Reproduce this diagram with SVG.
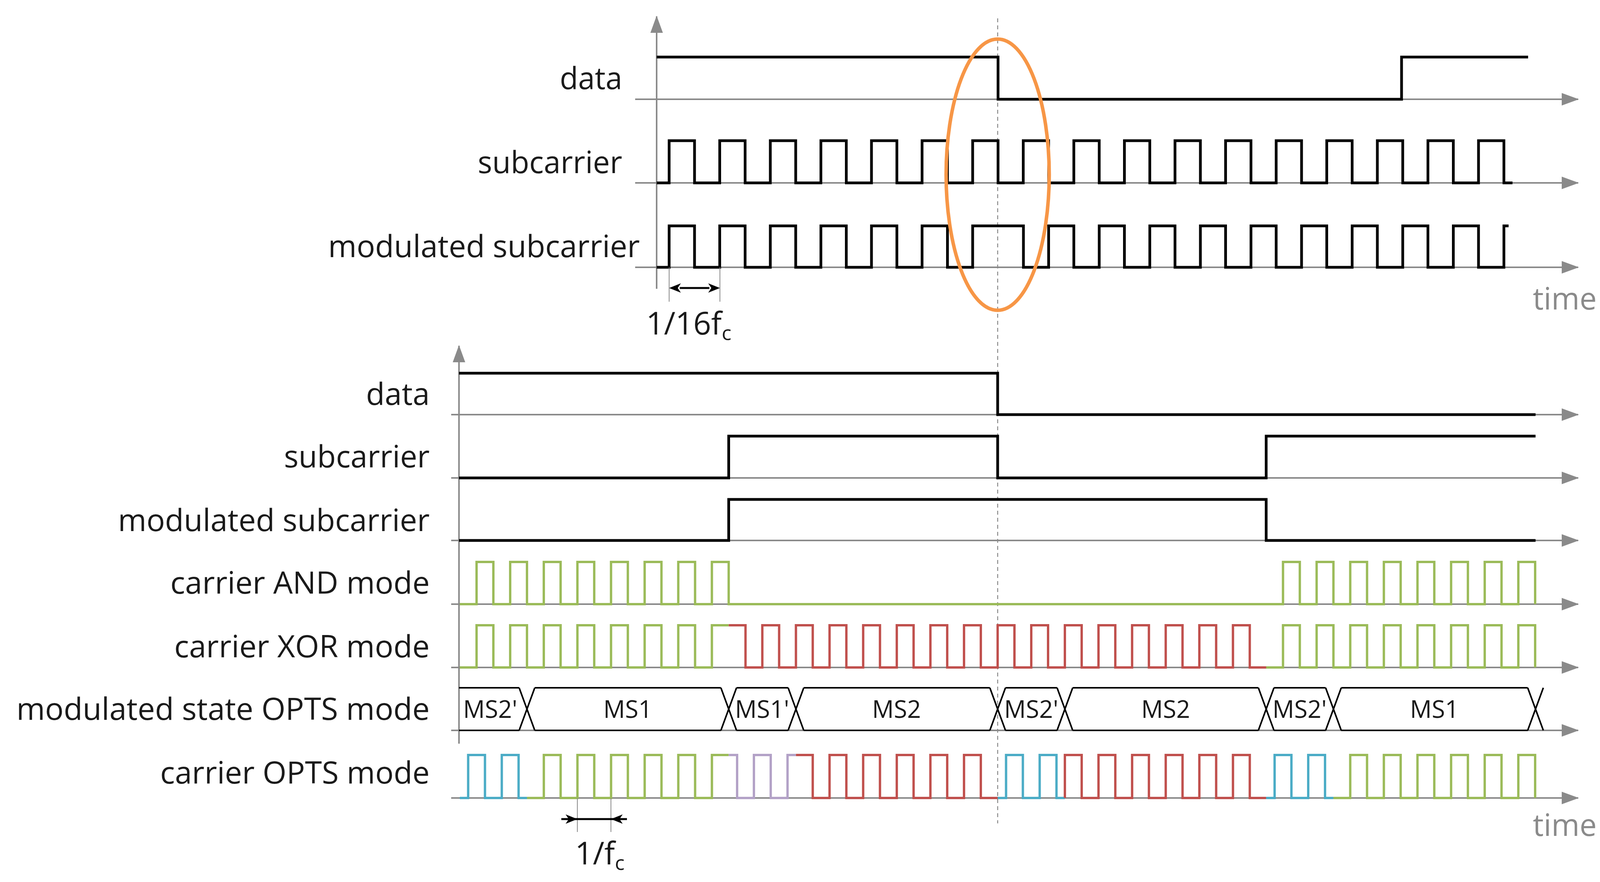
<svg xmlns="http://www.w3.org/2000/svg" width="4117" height="2257" viewBox="0 0 4117 2257">
<style>
text{font-family:"Open Sans","Liberation Sans",sans-serif;fill:#1a1a1a}
.lbl{font-size:78px;text-anchor:end}
.ms{font-size:62px;text-anchor:middle}
.time{font-size:78px;fill:#8a8a8a}
.ax{stroke:#8a8a8a;stroke-width:4;fill:none}
.sig{stroke:#000;stroke-width:7;fill:none;stroke-linejoin:miter}
.g{stroke:#9BBB59;stroke-width:6;fill:none}
.r{stroke:#C0504D;stroke-width:6;fill:none}
.b{stroke:#4BACC6;stroke-width:6;fill:none}
.p{stroke:#B3A2C7;stroke-width:6;fill:none}
.ms-line{stroke:#000;stroke-width:4;fill:none}
.tick{stroke:#8a8a8a;stroke-width:2}
.dim{stroke:#000;stroke-width:5}
</style>
<defs>
<marker id="ah" markerUnits="userSpaceOnUse" markerWidth="44" markerHeight="32" refX="42" refY="16" orient="auto"><path d="M0,0 L44,16 L0,32 Z" fill="#8a8a8a"/></marker>
</defs>

<g id="axes">
<line class="ax" x1="1681" y1="739" x2="1681" y2="42" marker-end="url(#ah)"/>
<line class="ax" x1="1626" y1="254" x2="4040" y2="254" marker-end="url(#ah)"/>
<line class="ax" x1="1626" y1="468" x2="4040" y2="468" marker-end="url(#ah)"/>
<line class="ax" x1="1626" y1="684" x2="4040" y2="684" marker-end="url(#ah)"/>
<line class="ax" x1="1175" y1="1903" x2="1175" y2="885" marker-end="url(#ah)"/>
<line class="ax" x1="1155" y1="1061" x2="4040" y2="1061" marker-end="url(#ah)"/>
<line class="ax" x1="1155" y1="1223" x2="4040" y2="1223" marker-end="url(#ah)"/>
<line class="ax" x1="1155" y1="1383" x2="4040" y2="1383" marker-end="url(#ah)"/>
<line class="ax" x1="1155" y1="1546" x2="4040" y2="1546" marker-end="url(#ah)"/>
<line class="ax" x1="1155" y1="1708" x2="4040" y2="1708" marker-end="url(#ah)"/>
<line class="ax" x1="1155" y1="1869" x2="4040" y2="1869" marker-end="url(#ah)"/>
<line class="ax" x1="1155" y1="2042" x2="4040" y2="2042" marker-end="url(#ah)"/>
<line x1="2554" y1="47" x2="2554" y2="2107" stroke="#8a8a8a" stroke-width="2.5" stroke-dasharray="10,8"/>
</g>

<g id="labels">
<text class="lbl" x="1593" y="228" textLength="160" lengthAdjust="spacingAndGlyphs">data</text>
<text class="lbl" x="1593" y="443" textLength="370" lengthAdjust="spacingAndGlyphs">subcarrier</text>
<text class="lbl" x="1638" y="658" textLength="798" lengthAdjust="spacingAndGlyphs">modulated subcarrier</text>
<text class="lbl" x="1100" y="1036" textLength="163" lengthAdjust="spacingAndGlyphs">data</text>
<text class="lbl" x="1100" y="1196" textLength="373" lengthAdjust="spacingAndGlyphs">subcarrier</text>
<text class="lbl" x="1100" y="1359" textLength="798" lengthAdjust="spacingAndGlyphs">modulated subcarrier</text>
<text class="lbl" x="1100" y="1519" textLength="664" lengthAdjust="spacingAndGlyphs">carrier AND mode</text>
<text class="lbl" x="1100" y="1682" textLength="654" lengthAdjust="spacingAndGlyphs">carrier XOR mode</text>
<text class="lbl" x="1100" y="1842" textLength="1058" lengthAdjust="spacingAndGlyphs">modulated state OPTS mode</text>
<text class="lbl" x="1100" y="2005" textLength="690" lengthAdjust="spacingAndGlyphs">carrier OPTS mode</text>
<text class="time" x="3924" y="792">time</text>
<text class="time" x="3924" y="2139">time</text>
</g>

<g id="top-signals">
<path class="sig" d="M1681 146 H2555 V254 H3588 V146 H3912"/>
<path class="sig" d="M1681 468 H1713 v-108 h65 v108 h64.5 v-108 h65 v108 h64.5 v-108 h65 v108 h64.5 v-108 h65 v108 h64.5 v-108 h65 v108 h64.5 v-108 h65 v108 h64.5 v-108 h65 v108 h64.5 v-108 h65 v108 h64.5 v-108 h65 v108 h64.5 v-108 h65 v108 h64.5 v-108 h65 v108 h64.5 v-108 h65 v108 h64.5 v-108 h65 v108 h64.5 v-108 h65 v108 h64.5 v-108 h65 v108 h64.5 v-108 h65 v108 h64.5 v-108 h65 v108 H3872"/>
<path class="sig" d="M1681 684 H1713 v-106 h65 v106 h64.5 v-106 h65 v106 h64.5 v-106 h65 v106 h64.5 v-106 h65 v106 h64.5 v-106 h65 v106 h64.5 v-106 h65 v106 h64.5 v-106 H2620 v106 h64.5 v-106 h64.5 v106 h65 v-106 h64.5 v106 h65 v-106 h64.5 v106 h65 v-106 h64.5 v106 h65 v-106 h64.5 v106 h65 v-106 h64.5 v106 h65 v-106 h64.5 v106 h65 v-106 h64.5 v106 h65 v-106 h64.5 v106 h65 v-106 h12"/>
</g>

<g id="top-annot">
<ellipse cx="2554" cy="447" rx="132" ry="347" fill="none" stroke="#F79646" stroke-width="9"/>
<line class="tick" x1="1713" y1="684" x2="1713" y2="772"/>
<line class="tick" x1="1843" y1="684" x2="1843" y2="772"/>
<line class="dim" x1="1740" y1="737" x2="1816" y2="737"/>
<path d="M1713 737 l30 -12 l-8 12 l8 12 Z M1843 737 l-30 -12 l8 12 l-8 12 Z" fill="#000"/>
<text x="1654" y="856" style="font-size:80px">1/16f<tspan style="font-size:52px" dy="14">c</tspan></text>
</g>

<g id="bottom-signals">
<path class="sig" d="M1175 955 H2554 V1061 H3931"/>
<path class="sig" d="M1175 1223 H1865.5 V1116 H2554 V1223 H3241.4 V1116 H3931"/>
<path class="sig" d="M1175 1383 H1865.5 V1278 H3241.4 V1383 H3931"/>
<path class="g" d="M1177 1546 H1220 v-108 h43.03 v108 h43.03 v-108 h43.03 v108 h43.03 v-108 h43.03 v108 h43.03 v-108 h43.03 v108 h43.03 v-108 h43.03 v108 h43.03 v-108 h43.03 v108 h43.03 v-108 h43.03 v108 h43.03 v-108 h43.03 v108 H3284.5 v-108 h43.03 v108 h43.03 v-108 h43.03 v108 h43.03 v-108 h43.03 v108 h43.03 v-108 h43.03 v108 h43.03 v-108 h43.03 v108 h43.03 v-108 h43.03 v108 h43.03 v-108 h43.03 v108 h43.03 v-108 h43.03 v108"/>
<path class="g" d="M1177 1708 H1220 v-108 h43.03 v108 h43.03 v-108 h43.03 v108 h43.03 v-108 h43.03 v108 h43.03 v-108 h43.03 v108 h43.03 v-108 h43.03 v108 h43.03 v-108 h43.03 v108 h43.03 v-108 h43.03 v108 h43.03 v-108 H1865.5"/>
<path class="r" d="M1865.5 1600 H1908.5 V1708 h43.03 v-108 h43.03 v108 h43.03 v-108 h43.03 v108 h43.03 v-108 h43.03 v108 h43.03 v-108 h43.03 v108 h43.03 v-108 h43.03 v108 h43.03 v-108 h43.03 v108 h43.03 v-108 h43.03 v108 h43.03 v-108 h43.03 v108 h43.03 v-108 h43.03 v108 h43.03 v-108 h43.03 v108 h43.03 v-108 h43.03 v108 h43.03 v-108 h43.03 v108 h43.03 v-108 h43.03 v108 h43.03 v-108 h43.03 v108 h43.03 v-108 h43.03 v108 h43.03"/>
<path class="g" d="M3241.4 1708 H3284.5 v-108 h43.03 v108 h43.03 v-108 h43.03 v108 h43.03 v-108 h43.03 v108 h43.03 v-108 h43.03 v108 h43.03 v-108 h43.03 v108 h43.03 v-108 h43.03 v108 h43.03 v-108 h43.03 v108 h43.03 v-108 h43.03 v108"/>
</g>

<g id="ms-row">
<path class="ms-line" d="M1175 1760 H1329 M1175 1869 H1329 M1369 1760 H1845.5 M1369 1869 H1845.5 M1885.5 1760 H2017.6 M1885.5 1869 H2017.6 M2057.6 1760 H2534 M2057.6 1869 H2534 M2574 1760 H2706.1 M2574 1869 H2706.1 M2746.1 1760 H3221.4 M2746.1 1869 H3221.4 M3261.4 1760 H3393.6 M3261.4 1869 H3393.6 M3433.6 1760 H3910.9 M3433.6 1869 H3910.9"/>
<path class="ms-line" d="M1329 1760 L1369 1869 M1329 1869 L1369 1760 M1845.5 1760 L1885.5 1869 M1845.5 1869 L1885.5 1760 M2017.6 1760 L2057.6 1869 M2017.6 1869 L2057.6 1760 M2534 1760 L2574 1869 M2534 1869 L2574 1760 M2706.1 1760 L2746.1 1869 M2706.1 1869 L2746.1 1760 M3221.4 1760 L3261.4 1869 M3221.4 1869 L3261.4 1760 M3393.6 1760 L3433.6 1869 M3393.6 1869 L3433.6 1760 M3910.9 1760 L3950.9 1869 M3910.9 1869 L3950.9 1760"/>
<text class="ms" x="1255" y="1837">MS2'</text>
<text class="ms" x="1607" y="1837">MS1</text>
<text class="ms" x="1951" y="1837">MS1'</text>
<text class="ms" x="2295" y="1837">MS2</text>
<text class="ms" x="2640" y="1837">MS2'</text>
<text class="ms" x="2984" y="1837">MS2</text>
<text class="ms" x="3327" y="1837">MS2'</text>
<text class="ms" x="3672" y="1837">MS1</text>
</g>

<g id="opts-row">
<path class="b" d="M1177 2042 H1198.5 V1932 h43.03 V2042 h43.03 V1932 h43.03 V2042 H1349.1"/>
<path class="g" d="M1349.1 2042 H1392.2 v-110 h43.03 v110 h43.03 v-110 h43.03 v110 h43.03 v-110 h43.03 v110 h43.03 v-110 h43.03 v110 h43.03 v-110 h43.03 v110 h43.03 v-110 H1865.5"/>
<path class="p" d="M1865.5 1932 H1887 V2042 h43.03 v-110 h43.03 v110 h43.03 v-110 H2037.6"/>
<path class="r" d="M2037.6 1932 H2080.6 V2042 h43.03 v-110 h43.03 v110 h43.03 v-110 h43.03 v110 h43.03 v-110 h43.03 v110 h43.03 v-110 h43.03 v110 h43.03 v-110 h43.03 v110 H2554"/>
<path class="b" d="M2554 2042 H2575.5 v-110 h43.03 v110 h43.03 v-110 h43.03 v110 H2726.1"/>
<path class="r" d="M2726.1 2042 v-110 h43.03 v110 h43.03 v-110 h43.03 v110 h43.03 v-110 h43.03 v110 h43.03 v-110 h43.03 v110 h43.03 v-110 h43.03 v110 h43.03 v-110 h43.03 v110 H3241.4"/>
<path class="b" d="M3241.4 2042 H3263 v-110 h43.03 v110 h43.03 v-110 h43.03 v110 H3413.6"/>
<path class="g" d="M3413.6 2042 H3456.6 v-110 h43.03 v110 h43.03 v-110 h43.03 v110 h43.03 v-110 h43.03 v110 h43.03 v-110 h43.03 v110 h43.03 v-110 h43.03 v110 h43.03 v-110 h43.03 v110"/>
</g>

<g id="bottom-annot">
<line class="tick" x1="1478" y1="2042" x2="1478" y2="2129"/>
<line class="tick" x1="1564" y1="2042" x2="1564" y2="2129"/>
<line class="dim" x1="1437" y1="2096" x2="1605" y2="2096"/>
<path d="M1478 2096 l-30 -12 l8 12 l-8 12 Z M1564 2096 l30 -12 l-8 12 l8 12 Z" fill="#000"/>
<text x="1472" y="2212" style="font-size:80px">1/f<tspan style="font-size:52px" dy="14">c</tspan></text>
</g>
</svg>
